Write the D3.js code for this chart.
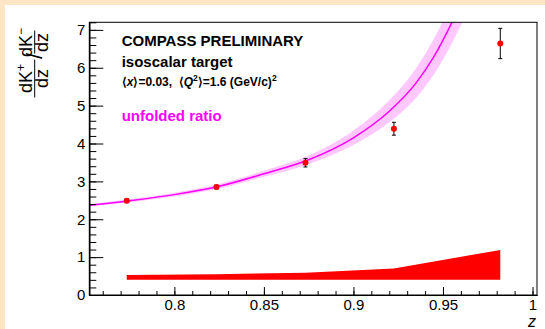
<!DOCTYPE html>
<html>
<head>
<meta charset="utf-8">
<script src="https://cdn.jsdelivr.net/npm/d3@7"></script>
<style>
  html, body { margin: 0; padding: 0; background: #ffffff; }
  svg { display: block; }
  text { font-family: "Liberation Sans", Arial, sans-serif; }
</style>
</head>
<body>
<svg id="chart" width="545" height="329"></svg>
<script>
// Measured K+/K- multiplicity ratio vs z
const pointZ   = [0.7734, 0.8235, 0.8732, 0.9226, 0.982];
const pointY   = [2.49, 2.85, 3.49, 4.39, 6.64];
const pointErr = [0.05, 0.05, 0.11, 0.17, 0.40];

// Systematic uncertainty band, drawn from a fixed base level
const sysBase   = 0.40;
const sysHeight = [0.13, 0.15, 0.19, 0.30, 0.79];

// Fitted ratio curve with its uncertainty band
const fitZ   = [0.7525, 0.775, 0.80, 0.825, 0.85, 0.875, 0.90, 0.92, 0.935, 0.945, 0.955, 0.965];
const fitY   = [2.37, 2.49, 2.65, 2.87, 3.20, 3.57, 4.15, 4.85, 5.60, 6.30, 7.20, 8.25];
const fitErr = [0.03, 0.04, 0.05, 0.06, 0.08, 0.11, 0.19, 0.29, 0.39, 0.47, 0.55, 0.63];

// Axis ticks
const xMajor = [0.8, 0.85, 0.9, 0.95, 1.0];
const xMinor = d3.range(76, 101).map(v => v / 100);
const yMajor = [0, 1, 2, 3, 4, 5, 6, 7];
const yMinor = d3.range(0, 37).map(v => +(v * 0.2).toFixed(1));

const svg = d3.select("#chart");
const W = 545, H = 329;
const frame = { left: 89.3, right: 537, top: 22.3, bottom: 295 };

// canvas border
svg.append("rect").attr("x", 0).attr("y", 0).attr("width", W).attr("height", H).attr("fill", "#fde6c6");
svg.append("rect").attr("x", 5).attr("y", 5).attr("width", W - 5).attr("height", H - 5).attr("fill", "#ffffff");

const x = d3.scaleLinear().domain([0.7525, 1.0025]).range([frame.left, frame.right]);
const y = d3.scaleLinear().domain([0, 7.2]).range([frame.bottom, frame.top]);

svg.append("clipPath").attr("id", "plotClip")
  .append("rect")
  .attr("x", frame.left).attr("y", frame.top)
  .attr("width", frame.right - frame.left).attr("height", frame.bottom - frame.top);

const plot = svg.append("g").attr("clip-path", "url(#plotClip)");

// fit band + curve
const fitData = fitZ.map((z, i) => ({ z, v: fitY[i], e: fitErr[i] }));
plot.append("path")
  .datum(fitData)
  .attr("fill", "#ffc8ff")
  .attr("d", d3.area().curve(d3.curveMonotoneX)
    .x(d => x(d.z)).y0(d => y(d.v - d.e)).y1(d => y(d.v + d.e)));
plot.append("path")
  .datum(fitData)
  .attr("fill", "none")
  .attr("stroke", "#ff00ff")
  .attr("stroke-width", 1.5)
  .attr("d", d3.line().curve(d3.curveMonotoneX).x(d => x(d.z)).y(d => y(d.v)));

// systematic band
const sysData = pointZ.map((z, i) => ({ z, h: sysHeight[i] }));
plot.append("path")
  .datum(sysData)
  .attr("fill", "#ff0000")
  .attr("d", d3.area().x(d => x(d.z)).y0(y(sysBase)).y1(d => y(sysBase + d.h)));

// data points with statistical errors
const pts = pointZ.map((z, i) => ({ z, v: pointY[i], e: pointErr[i] }));
const pg = plot.append("g");
pts.forEach(d => {
  const cx = x(d.z);
  pg.append("line").attr("x1", cx).attr("x2", cx)
    .attr("y1", y(d.v - d.e)).attr("y2", y(d.v + d.e))
    .attr("stroke", "#000").attr("stroke-width", 1);
  [d.v - d.e, d.v + d.e].forEach(v => {
    pg.append("line").attr("x1", cx - 2).attr("x2", cx + 2)
      .attr("y1", y(v)).attr("y2", y(v))
      .attr("stroke", "#000").attr("stroke-width", 1);
  });
  pg.append("circle").attr("cx", cx).attr("cy", y(d.v)).attr("r", 3).attr("fill", "#ff0000");
});

// frame
svg.append("rect")
  .attr("x", frame.left).attr("y", frame.top)
  .attr("width", frame.right - frame.left).attr("height", frame.bottom - frame.top)
  .attr("fill", "none").attr("stroke", "#000").attr("stroke-width", 1);

// axes (ticks pointing inward)
const xAxisG = svg.append("g").attr("transform", `translate(0,${frame.bottom})`);
xAxisG.call(d3.axisBottom(x).tickValues(xMinor).tickSize(-4).tickSizeOuter(0).tickFormat(""));
const xMajG = svg.append("g").attr("transform", `translate(0,${frame.bottom})`);
xMajG.call(d3.axisBottom(x).tickValues(xMajor).tickSize(-8).tickSizeOuter(0).tickPadding(4)
  .tickFormat(d => d === 1 ? "1" : d3.format("")(d)));

const yAxisG = svg.append("g").attr("transform", `translate(${frame.left},0)`);
yAxisG.call(d3.axisLeft(y).tickValues(yMinor).tickSize(-7).tickSizeOuter(0).tickFormat(""));
const yMajG = svg.append("g").attr("transform", `translate(${frame.left},0)`);
yMajG.call(d3.axisLeft(y).tickValues(yMajor).tickSize(-14).tickSizeOuter(0).tickPadding(4));

svg.selectAll(".domain").attr("stroke", "#000").attr("stroke-width", 1);
svg.selectAll(".tick line").attr("stroke", "#000").attr("stroke-width", 1);
svg.selectAll(".tick text")
  .attr("font-family", "'Liberation Sans', Arial, sans-serif")
  .attr("font-size", 15).attr("fill", "#000");

// x axis title
svg.append("text").attr("x", 536).attr("y", 327).attr("text-anchor", "end")
  .attr("font-size", 16).attr("font-style", "italic").text("z");

// y axis title: dK+/dz / dK-/dz
const yt = svg.append("g").attr("transform", "translate(34.7,64.5) rotate(-90)");
function frac(g, cu, num, sup, den) {
  const t = g.append("text").attr("x", cu).attr("y", -3).attr("text-anchor", "middle").attr("font-size", 18);
  t.append("tspan").text(num);
  t.append("tspan").attr("dy", -7).attr("font-size", 12).text(sup);
  g.append("text").attr("x", cu).attr("y", 13).attr("text-anchor", "middle").attr("font-size", 18).text(den);
}
frac(yt, -14, "dK", "+", "dz");
yt.append("line").attr("x1", -33).attr("x2", 5).attr("y1", 0).attr("y2", 0).attr("stroke", "#000").attr("stroke-width", 1);
yt.append("text").attr("x", 8.5).attr("y", 7).attr("text-anchor", "middle").attr("font-size", 22).text("/");
frac(yt, 22, "dK", "\u2212", "dz");
yt.append("line").attr("x1", 11).attr("x2", 34).attr("y1", 0).attr("y2", 0).attr("stroke", "#000").attr("stroke-width", 1);

// annotations
const ann = svg.append("g").attr("font-weight", "bold");
ann.append("text").attr("x", 121.7).attr("y", 46).attr("font-size", 15).text("COMPASS PRELIMINARY");
ann.append("text").attr("x", 121.7).attr("y", 66.7).attr("font-size", 15).text("isoscalar target");
const kin = ann.append("text").attr("x", 121.7).attr("y", 85.7).attr("font-size", 12);
kin.append("tspan").text("\u27E8");
kin.append("tspan").attr("font-style", "italic").text("x");
kin.append("tspan").text("\u27E9=0.03,\u00A0\u00A0\u27E8");
kin.append("tspan").attr("font-style", "italic").text("Q");
kin.append("tspan").attr("dy", -5).attr("font-size", 8.5).text("2");
kin.append("tspan").attr("dy", 5).text("\u27E9=1.6 (GeV/c)");
kin.append("tspan").attr("dy", -5).attr("font-size", 8.5).text("2");
ann.append("text").attr("x", 121.7).attr("y", 121).attr("font-size", 15).attr("fill", "#ff00ff").text("unfolded ratio");
</script>
</body>
</html>
